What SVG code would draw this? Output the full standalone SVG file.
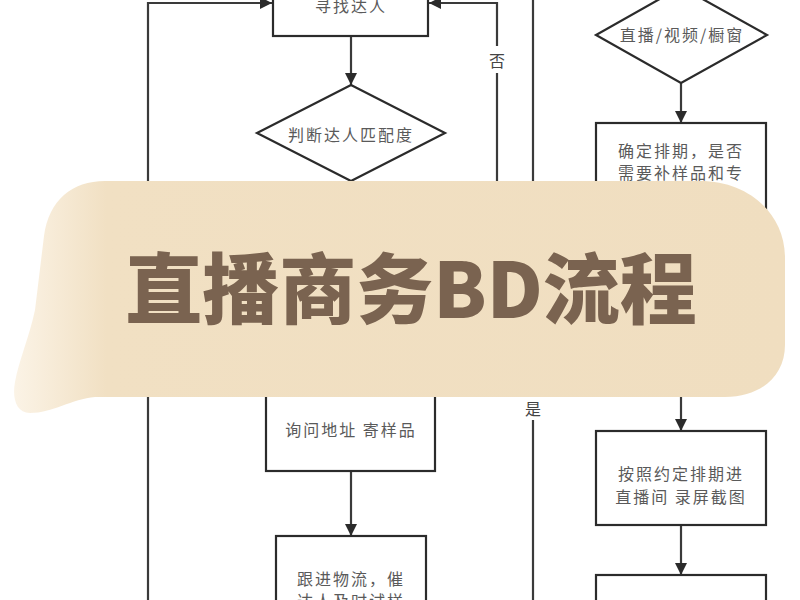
<svg xmlns="http://www.w3.org/2000/svg" width="800" height="600" viewBox="0 0 800 600">
<defs>
<style>
.box{fill:#fff;stroke:#2b2b2b;stroke-width:2.2}
.con{fill:none;stroke:#3a3a3a;stroke-width:2.2}
.t{font-family:"Noto Sans CJK SC","Noto Sans CJK JP",sans-serif;font-size:16px;fill:#5a5a5a;text-anchor:middle;letter-spacing:2px}
.lbl{font-family:"Noto Sans CJK SC",sans-serif;font-size:16px;fill:#444;text-anchor:middle}
.title{font-family:"Noto Sans CJK SC","Noto Sans CJK JP",sans-serif;font-size:77px;font-weight:900;fill:#7a6350;text-anchor:middle}
</style>
<marker id="ah" markerUnits="userSpaceOnUse" markerWidth="12" markerHeight="12" refX="12" refY="6" orient="auto" viewBox="0 0 12 12">
<path d="M0,0 L12,6 L0,12 z" fill="#2b2b2b"/>
</marker>
<linearGradient id="bg" x1="0" y1="0" x2="1" y2="0">
<stop offset="0" stop-color="#fbf3e6"/>
<stop offset="0.12" stop-color="#f1e0c3"/>
<stop offset="1" stop-color="#f0dec0"/>
</linearGradient>
</defs>
<rect width="800" height="600" fill="#fff"/>
<g id="connectors">
<path class="con" d="M148,610 V3 H272" marker-end="url(#ah)"/>
<path class="con" d="M497,220 V73"/>
<path class="con" d="M497,46 V3 H429" marker-end="url(#ah)"/>
<path class="con" d="M533,-5 V396"/>
<path class="con" d="M533,420 V610"/>
<path class="con" d="M351,36 V85" marker-end="url(#ah)"/>
<path class="con" d="M681,83 V123" marker-end="url(#ah)"/>
<path class="con" d="M351,471 V536" marker-end="url(#ah)"/>
<path class="con" d="M681,380 V431" marker-end="url(#ah)"/>
<path class="con" d="M681,525 V575" marker-end="url(#ah)"/>
</g>
<g id="n1"><rect class="box" x="273" y="-40" width="155" height="76"/><text class="t" x="351" y="12">寻找达人</text></g>
<g id="d1"><polygon class="box" points="351,85 445,133 351,181 257,133"/><text class="t" x="351" y="141">判断达人匹配度</text></g>
<g id="d2"><polygon class="box" points="681,-13 767,35 681,83 596,35"/><text class="t" x="682" y="41">直播/视频/橱窗</text></g>
<g id="n2"><rect class="box" x="596" y="123" width="170" height="110"/><text class="t" x="681" y="157">确定排期，是否</text><text class="t" x="681" y="179">需要补样品和专</text></g>
<g id="n3"><rect class="box" x="266" y="360" width="169" height="111"/><text class="t" x="351" y="436">询问地址 寄样品</text></g>
<g id="n4"><rect class="box" x="276" y="536" width="150" height="100"/><text class="t" x="351" y="585">跟进物流，催</text><text class="t" x="351" y="607">达人及时试样</text></g>
<g id="n5"><rect class="box" x="596" y="431" width="170" height="94"/><text class="t" x="681" y="480">按照约定排期进</text><text class="t" x="681" y="503">直播间 录屏截图</text></g>
<g id="n6"><rect class="box" x="596" y="575" width="170" height="60"/></g>
<g id="labels">
<text class="lbl" x="497" y="67">否</text>
<text class="lbl" x="533" y="415">是</text>
</g>
<g id="banner">
<path d="M105,181 L700,181 C750,181 785,215 785,258 L785,345 C785,375 762,397 725,397 L95,397 C72,399 52,413 30,413 C16,413 12,398 15,382 C19,360 29,338 35,310 L44,236 C49,200 72,181 105,181 Z" fill="url(#bg)"/>
<text class="title" x="411" y="318">直播商务BD流程</text>
</g>
</svg>
